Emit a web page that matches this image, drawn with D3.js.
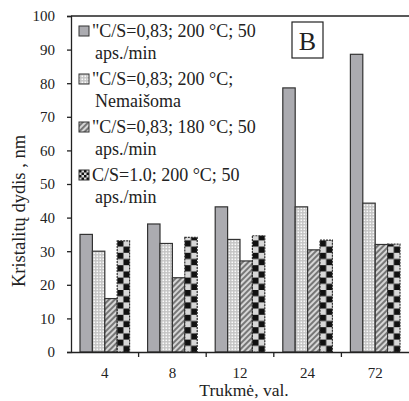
<!DOCTYPE html>
<html>
<head>
<meta charset="utf-8">
<script src="https://d3js.org/d3.v7.min.js"></script>
<style>
  body { margin: 0; background: #fff; }
  text { font-family: "Liberation Serif", "Times New Roman", serif; fill: #222; }
</style>
</head>
<body>
<script>
var categories = ["4", "8", "12", "24", "72"];
var seriesNames = ["\"C/S=0,83; 200 °C; 50|aps./min", "\"C/S=0,83; 200 °C;|Nemaišoma",
                   "\"C/S=0,83; 180 °C; 50|aps./min", "C/S=1.0; 200 °C; 50|aps./min"];
var gray     = [35, 38.1, 43.2, 78.6, 88.6];
var dotted   = [30, 32.3, 33.5, 43.2, 44.3];
var hatched  = [15.9, 22.1, 27.1, 30.4, 32];
var checker  = [33.1, 34.1, 34.6, 33.3, 32.1];
var yTicks = [0, 10, 20, 30, 40, 50, 60, 70, 80, 90, 100];

var series = [gray, dotted, hatched, checker];
var w = 409, h = 401;
var pLeft = 71, pRight = 409, pTop = 16, pBottom = 352;

var svg = d3.select("body").append("svg").attr("width", w).attr("height", h);
var defs = svg.append("defs");

var y = d3.scaleLinear().domain([0, 100]).range([pBottom, pTop]);
var x0 = d3.scaleBand().domain(categories).range([pLeft, pRight]);
var x1 = d3.scaleBand().domain(d3.range(4)).range([9, x0.bandwidth() - 9]);

// patterns
var dots = defs.append("pattern").attr("id", "dots").attr("patternUnits", "userSpaceOnUse")
  .attr("width", 3).attr("height", 3);
dots.append("rect").attr("width", 3).attr("height", 3).attr("fill", "#c4c4c4");
dots.append("rect").attr("x", 0.5).attr("y", 0.5).attr("width", 1.6).attr("height", 1.6).attr("fill", "#fafafa");

var hatch = defs.append("pattern").attr("id", "hatch").attr("patternUnits", "userSpaceOnUse")
  .attr("width", 4).attr("height", 4).attr("patternTransform", "rotate(45)");
hatch.append("rect").attr("width", 4).attr("height", 4).attr("fill", "#d6d6d6");
hatch.append("rect").attr("width", 2).attr("height", 4).attr("fill", "#777");

function checkerPattern(id, px, py, s) {
  var p = defs.append("pattern").attr("id", id).attr("patternUnits", "userSpaceOnUse")
    .attr("x", px).attr("y", py).attr("width", 2 * s).attr("height", 2 * s);
  p.append("rect").attr("width", 2 * s).attr("height", 2 * s).attr("fill", "#d8d8d8");
  p.append("rect").attr("width", s).attr("height", s).attr("fill", "#111");
  p.append("rect").attr("x", s).attr("y", s).attr("width", s).attr("height", s).attr("fill", "#111");
}

var fills = ["#ababb0", "url(#dots)", "url(#hatch)", null];

// bars
categories.forEach(function(c, ci) {
  series.forEach(function(vals, si) {
    var bx = x0(c) + x1(si), bw = x1.bandwidth();
    var fill = fills[si];
    if (si === 3) {
      var id = "chk" + ci;
      checkerPattern(id, bx, pBottom, bw / 2);
      fill = "url(#" + id + ")";
    }
    svg.append("rect")
      .attr("x", bx).attr("y", y(vals[ci]))
      .attr("width", bw).attr("height", y(0) - y(vals[ci]))
      .attr("fill", fill)
      .attr("stroke", "#333").attr("stroke-width", 1.2)
      .attr("stroke-dasharray", si === 3 ? "2,1" : null);
  });
});

// axes
var yAxis = d3.axisLeft(y).tickValues(yTicks).tickSize(4).tickPadding(12);
var gy = svg.append("g").attr("transform", "translate(" + pLeft + ",0)").call(yAxis);
gy.selectAll("text").style("font-size", "15px").style("font-family", "Liberation Serif");
gy.selectAll("line, path").attr("stroke", "#222").attr("stroke-width", 1.3);

var xAxis = d3.axisBottom(x0).tickSize(0).tickPadding(15);
var gx = svg.append("g").attr("transform", "translate(0," + pBottom + ")").call(xAxis);
gx.selectAll("text").style("font-size", "15px").style("font-family", "Liberation Serif");
gx.select("path").attr("stroke", "#222").attr("stroke-width", 1.3);
gx.selectAll(".bnd").data(categories.slice(1)).enter().append("line")
  .attr("x1", d => x0(d)).attr("x2", d => x0(d)).attr("y1", 0).attr("y2", 5)
  .attr("stroke", "#222").attr("stroke-width", 1.3);

// top frame line
svg.append("line").attr("x1", pLeft).attr("x2", pRight).attr("y1", pTop).attr("y2", pTop)
  .attr("stroke", "#222").attr("stroke-width", 1.3);

// axis titles
svg.append("text").attr("transform", "translate(25,211) rotate(-90)")
  .attr("text-anchor", "middle").style("font-size", "18.5px").text("Kristalitų dydis , nm");
svg.append("text").attr("x", 244).attr("y", 396)
  .attr("text-anchor", "middle").style("font-size", "17.5px").text("Trukmė, val.");

// legend
var lg = svg.append("g");
seriesNames.forEach(function(name, i) {
  var yy = 37 + i * 48;
  var sw = 10;
  var fill = fills[i];
  if (i === 3) {
    checkerPattern("chkLeg", 79, yy - 11, 2.5);
    fill = "url(#chkLeg)";
  }
  lg.append("rect").attr("x", 79).attr("y", yy - 11).attr("width", sw).attr("height", sw)
    .attr("fill", fill).attr("stroke", "#333").attr("stroke-width", 1);
  var lines = name.split("|");
  lines.forEach(function(l, li) {
    lg.append("text").attr("x", li === 0 ? 92 : 95).attr("y", yy + li * 22)
      .style("font-size", "18px").text(l);
  });
});

// panel label
svg.append("rect").attr("x", 292).attr("y", 22).attr("width", 31).attr("height", 36)
  .attr("fill", "#fff").attr("stroke", "#222").attr("stroke-width", 1.2);
svg.append("text").attr("x", 307.5).attr("y", 50).attr("text-anchor", "middle")
  .style("font-size", "26px").text("B");
</script>
</body>
</html>
